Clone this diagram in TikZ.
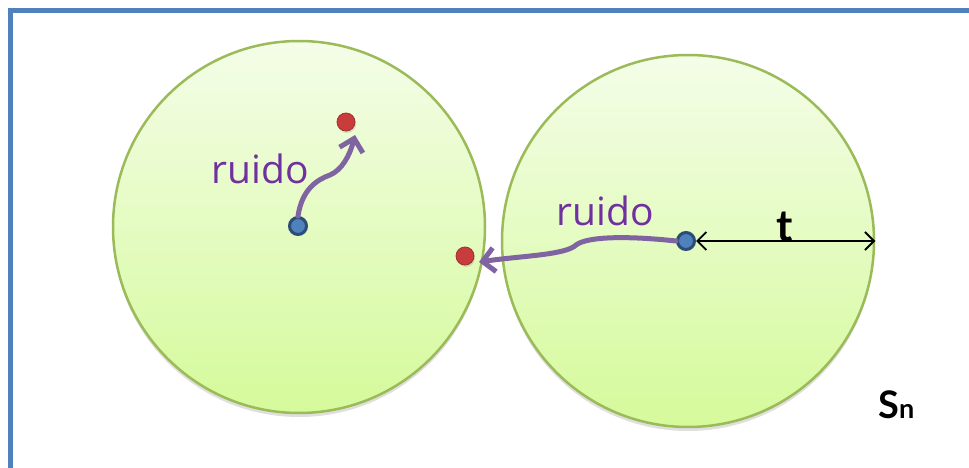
\documentclass[tikz,border=0pt]{standalone}
\usepackage{fontspec}
\setmainfont{Open Sans}
\newfontfamily\labelfont{Lato}
\usetikzlibrary{arrows.meta,shadows}
\definecolor{frameblue}{RGB}{79,129,189}
\definecolor{zoneedge}{RGB}{155,187,89}
\definecolor{zonetop}{RGB}{244,253,232}
\definecolor{zonebottom}{RGB}{213,250,155}
\definecolor{noisepurple}{RGB}{128,100,162}
\definecolor{noisetext}{RGB}{112,48,160}
\definecolor{dotblue}{RGB}{79,129,189}
\definecolor{dotblueedge}{RGB}{44,77,117}
\definecolor{dotred}{RGB}{200,60,60}
\tikzset{
  zone/.style={circle, draw=zoneedge, line width=2.5pt, minimum size=372pt,
    inner sep=0pt, top color=zonetop, bottom color=zonebottom,
    drop shadow={shadow xshift=0pt, shadow yshift=-4pt, opacity=0.25}},
  origin/.style={circle, fill=dotblue, draw=dotblueedge, line width=3pt,
    minimum size=17pt, inner sep=0pt},
  target/.style={circle, fill=dotred, draw=dotred!80!black, line width=0.8pt,
    minimum size=18pt, inner sep=0pt,
    drop shadow={shadow xshift=1pt, shadow yshift=-2pt, opacity=0.25}},
  noise/.style={draw=noisepurple, line width=5pt, line cap=round,
    -{Straight Barb[length=12pt,width=24pt,line width=5pt]}},
  noiselabel/.style={text=noisetext, font=\fontsize{39}{44}\selectfont, inner sep=0pt},
  radius/.style={draw=black, line width=1.8pt,
    {Straight Barb[length=9pt,width=18pt,line width=1.8pt]}-{Straight Barb[length=9pt,width=18pt,line width=1.8pt]}},
}
\begin{document}
\begin{tikzpicture}[x=1pt,y=-1pt]
\useasboundingbox (0,0) rectangle (969,468);
% frame of the set
\draw[frameblue, line width=5pt] (10.5,470) -- (10.5,11) -- (972,11);

% the two balls
\node[zone] (L) at (299,227) {};
\node[zone] (R) at (688,241) {};

% centres and perturbed points
\node[origin] (b1) at (298,226) {};
\node[origin] (b2) at (686,241) {};
\node[target] (r1) at (346,122) {};
\node[target] (r2) at (465,256) {};

% noise displacements
\draw[noise] (b1.north) .. controls (302,190) and (316,180) .. (330,175)
  .. controls (342,170) and (350,155) .. (355,135);
\draw[noise] (b2.west) .. controls (630,236) and (588,236) .. (576,245)
  .. controls (566,255) and (520,256) .. (479,262);

\node[noiselabel] (n1) at (260,169) {ruido};
\node[noiselabel] (n2) at (605,211) {ruido};

% radius of the ball
\coordinate (rim) at (R.east);
\draw[radius] (b2.east) -- (rim);
\node[font=\labelfont\bfseries\fontsize{44}{48}\selectfont, inner sep=0pt] (tl) at (785,227) {t};

\node[font=\labelfont\bfseries, inner sep=0pt, anchor=base west] (sn) at (878,418)
  {\fontsize{38}{42}\selectfont S\fontsize{27}{30}\selectfont n};
\end{tikzpicture}
\end{document}
